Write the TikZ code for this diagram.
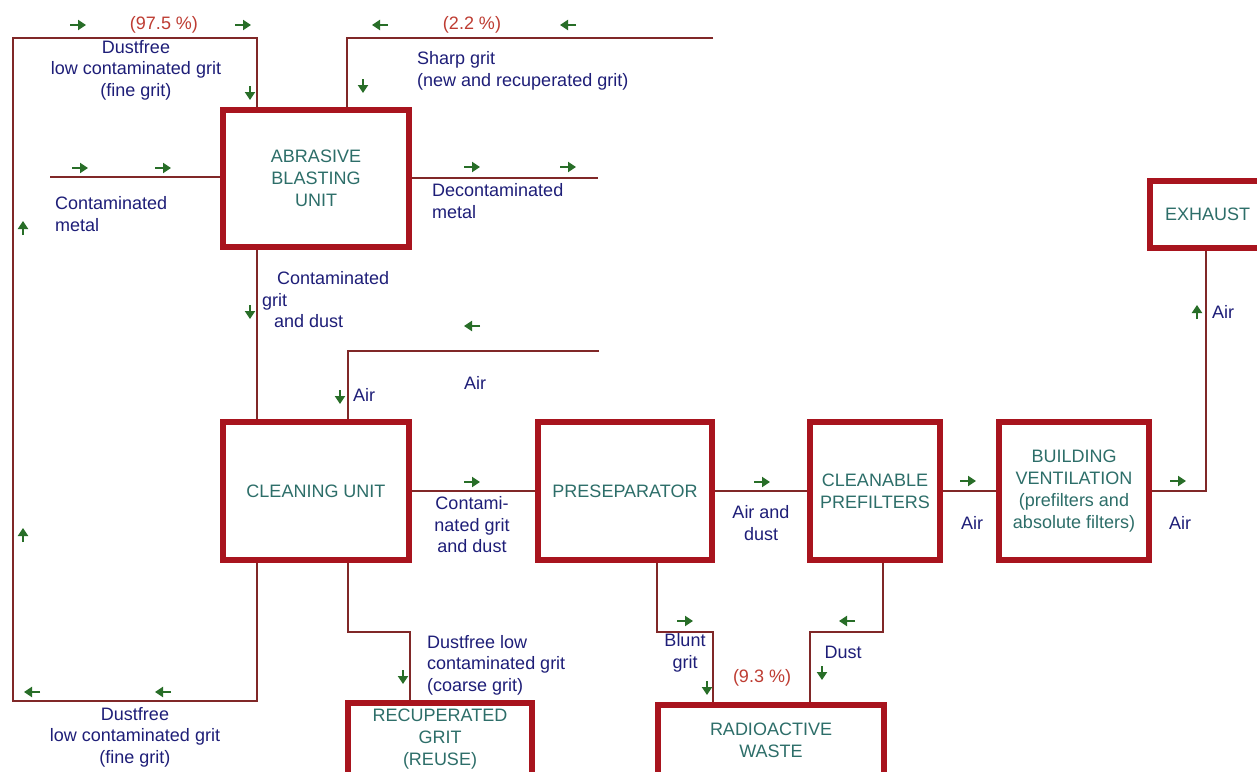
\documentclass[tikz,border=0pt]{standalone}
\usepackage{fontspec}
\setmainfont{Liberation Sans}
\usetikzlibrary{arrows.meta}
\pgfdeclarelayer{background}
\pgfsetlayers{background,main}
\definecolor{boxred}{RGB}{168,20,30}
\definecolor{linered}{RGB}{128,40,40}
\definecolor{navy}{RGB}{30,30,120}
\definecolor{tealtext}{RGB}{45,110,105}
\definecolor{agreen}{RGB}{40,110,40}
\definecolor{pctred}{RGB}{190,60,50}
\tikzset{
  box/.style={draw=boxred, line width=6pt, fill=white, text=tealtext, align=center,
    inner sep=0pt, font=\fontsize{18}{22}\selectfont},
  conn/.style={draw=linered, line width=1.5pt},
  lbl/.style={text=navy, inner sep=0pt, font=\fontsize{18}{21.5}\selectfont},
  pct/.style={text=pctred, inner sep=0pt, font=\fontsize{18}{21.5}\selectfont},
  garr/.style={draw=agreen, line width=2.4pt, -{Triangle[length=8pt,width=10pt]}}
}
\newcommand\ahR[2]{\draw[garr] (#1-8,#2) -- (#1+8,#2);}
\newcommand\ahL[2]{\draw[garr] (#1+8,#2) -- (#1-8,#2);}
\newcommand\ahD[2]{\draw[garr] (#1,#2-7) -- (#1,#2+7);}
\newcommand\ahU[2]{\draw[garr] (#1,#2+7) -- (#1,#2-7);}
\begin{document}
\begin{tikzpicture}[x=1pt,y=-1pt]
\useasboundingbox (0,0) rectangle (1257,771);
\begin{pgfonlayer}{background}
\fill[white] (0,0) rectangle (1257,771);
\end{pgfonlayer}
\clip (0,0) rectangle (1257,771);

% corner coordinates
\coordinate (c1) at (257,38);
\coordinate (c2) at (13,38);
\coordinate (c3) at (13,701);
\coordinate (c4) at (257,701);
\coordinate (s1) at (713,38);
\coordinate (s2) at (347,38);
\coordinate (m1) at (50,177);
\coordinate (m2) at (598,178);
\coordinate (a1) at (599,351);
\coordinate (a2) at (348,351);
\coordinate (e1) at (1206,491);
\coordinate (r1) at (348,632);
\coordinate (r2) at (410,632);
\coordinate (p1) at (657,632);
\coordinate (p2) at (713,632);
\coordinate (q1) at (883,632);
\coordinate (q2) at (810,632);

% boxes
\node[box, minimum width=186pt, minimum height=137pt] (abu) at (316,178.5) {ABRASIVE\\BLASTING\\UNIT};
\node[box, minimum width=186pt, minimum height=138pt] (clu) at (316,491) {CLEANING UNIT};
\node[box, minimum width=174pt, minimum height=138pt] (pre) at (625,491) {PRESEPARATOR};
\node[box, minimum width=130pt, minimum height=138pt] (cpf) at (875,491) {CLEANABLE\\PREFILTERS};
\node[box, minimum width=150pt, minimum height=138pt] (bv) at (1074,491) {BUILDING\\VENTILATION\\(prefilters and\\absolute filters)};
\node[box, minimum width=115pt, minimum height=67pt] (exh) at (1207.5,214.5) {EXHAUST};
\node[box, minimum width=184pt, minimum height=72pt] (rg) at (440,739) {RECUPERATED\\GRIT\\(REUSE)};
\node[box, minimum width=226pt, minimum height=70pt] (rw) at (771,740) {RADIOACTIVE\\WASTE};

% connectors (behind boxes)
\begin{pgfonlayer}{background}
\draw[conn] (clu.south -| c4) -- (c4) -- (c3) -- (c2) -- (c1) -- (abu.north -| c1);
\draw[conn] (s1) -- (s2) -- (abu.north -| s2);
\draw[conn] (m1) -- (abu.west |- m1);
\draw[conn] (abu.east |- m2) -- (m2);
\draw[conn] (abu.south -| c1) -- (clu.north -| c1);
\draw[conn] (a1) -- (a2) -- (clu.north -| a2);
\draw[conn] (clu.east) -- (pre.west);
\draw[conn] (pre.east) -- (cpf.west);
\draw[conn] (cpf.east) -- (bv.west);
\draw[conn] (bv.east) -- (e1) -- (exh.south -| e1);
\draw[conn] (clu.south -| r1) -- (r1) -- (r2) -- (rg.north -| r2);
\draw[conn] (pre.south -| p1) -- (p1) -- (p2) -- (rw.north -| p2);
\draw[conn] (cpf.south -| q1) -- (q1) -- (q2) -- (rw.north -| q2);
\end{pgfonlayer}

% labels
\node[lbl, align=center] (lfg1) at (136,70) {Dustfree\\low contaminated grit\\(fine grit)};
\node[pct] (lp975) at (164,25) {(97.5 \%)};
\node[pct] (lp22) at (472,25) {(2.2 \%)};
\node[lbl, align=left, anchor=west] (lsharp) at (417,71) {Sharp grit\\(new and recuperated grit)};
\node[lbl, align=left, anchor=west] (lcm) at (55,214) {Contaminated\\metal};
\node[lbl, align=left, anchor=west] (ldm) at (432,201) {Decontaminated\\metal};
\node[lbl, align=left, anchor=west] (lcgd) at (262,300) {\hspace*{15pt}Contaminated\\grit\\\hspace*{12pt}and dust};
\node[lbl, anchor=west] (lair1) at (353,395) {Air};
\node[lbl] (lair2) at (475,383) {Air};
\node[lbl, align=center] (lcgd2) at (472,525) {Contami-\\nated grit\\and dust};
\node[lbl, align=center] (lad) at (761,523) {Air and\\dust};
\node[lbl] (lair3) at (972,523) {Air};
\node[lbl] (lair4) at (1180,523) {Air};
\node[lbl, anchor=west] (lair5) at (1212,312) {Air};
\node[lbl, align=center] (lfg2) at (135,737) {Dustfree\\low contaminated grit\\(fine grit)};
\node[lbl, align=left, anchor=west] (lcoarse) at (427,665) {Dustfree low\\contaminated grit\\(coarse grit)};
\node[lbl, align=center] (lblunt) at (685,653) {Blunt\\grit};
\node[lbl] (ldust) at (843,652) {Dust};
\node[pct] (lp93) at (762,678) {(9.3 \%)};

% green flow arrows
\ahR{78}{25} \ahR{243}{25}
\ahL{380}{25} \ahL{568}{25}
\ahD{250}{93} \ahD{363}{86}
\ahR{80}{168} \ahR{163}{168}
\ahR{472}{167} \ahR{568}{167}
\ahU{23}{228} \ahU{23}{535}
\ahL{32}{692} \ahL{163}{692}
\ahD{250}{312}
\ahD{340}{397}
\ahL{472}{326}
\ahR{472}{482} \ahR{762}{482} \ahR{968}{481} \ahR{1178}{481}
\ahU{1197}{312}
\ahD{403}{677}
\ahR{685}{621}
\ahD{707}{688}
\ahD{822}{673}
\ahL{847}{621}
\end{tikzpicture}
\end{document}
